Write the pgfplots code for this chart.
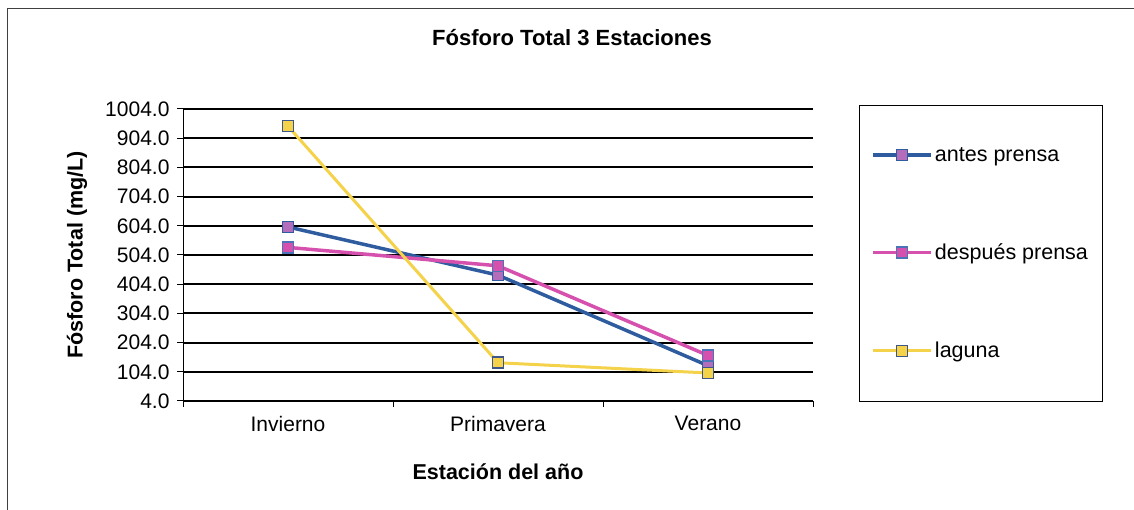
\documentclass[border=0pt]{standalone}
\usepackage{fontspec}
\setmainfont{Liberation Sans}
\usepackage{pgfplots}
\pgfplotsset{compat=1.18}

\definecolor{antesline}{HTML}{2F5C9E}
\definecolor{antesfill}{HTML}{B36DBA}
\definecolor{despline}{HTML}{D651AE}
\definecolor{despedge}{HTML}{4A73B8}
\definecolor{lagline}{HTML}{F4D24A}
\definecolor{lagedge}{HTML}{3E5688}

\begin{document}
\begin{tikzpicture}[x=1pt,y=1pt]
\path[use as bounding box] (0,0) rectangle (1134,510);
% chart area border
\draw[line width=1pt, black!75] (7,0) -- (7,501) -- (1134,501);
% title
\node[font=\fontsize{22}{26}\selectfont\bfseries] at (572,472) {Fósforo Total 3 Estaciones};
% axis titles
\node[font=\fontsize{21.5}{26}\selectfont\bfseries, rotate=90] at (77,255) {Fósforo Total (mg/L)};
\node[font=\fontsize{21.5}{26}\selectfont\bfseries] at (498,38) {Estación del año};

\begin{axis}[
  at={(183pt,109pt)}, anchor=south west,
  scale only axis, width=630pt, height=292pt,
  xmin=-0.5, xmax=2.5, ymin=4, ymax=1004,
  axis x line*=bottom, axis y line*=left,
  axis line style={line width=1pt, black, -},
  tick align=outside,
  major tick length=6pt,
  tick style={line width=1pt, black},
  xtick={-0.5,0.5,1.5,2.5}, xticklabels={},
  extra x ticks={0,1,2},
  extra x tick labels={Invierno,Primavera,Verano},
  extra x tick style={major tick length=0pt, grid=none},
  ytick={4,104,204,304,404,504,604,704,804,904,1004},
  yticklabels={4.0,104.0,204.0,304.0,404.0,504.0,604.0,704.0,804.0,904.0,1004.0},
  ymajorgrids,
  major grid style={line width=2pt, black},
  ticklabel style={font=\fontsize{21}{25}\selectfont},
  xticklabel style={yshift=-12pt},
  yticklabel style={xshift=-4pt},
  clip=false,
  legend style={
    at={(1.073,1.0137)}, anchor=north west,
    draw=black, line width=1pt, fill=white,
    font=\fontsize{21.5}{26}\selectfont,
    inner xsep=12pt, inner ysep=40pt,
    row sep=77pt,
  },
  legend cell align=left,
  legend image code/.code={
    \draw[mark repeat=2, mark phase=2] plot coordinates {(0pt,0pt) (29pt,0pt) (58pt,0pt)};
  },
]
\addplot[antesline, line width=3.5pt, mark=square*, mark size=5.5pt,
  mark options={fill=antesfill, draw=antesline, line width=1.5pt}]
  coordinates {(0,600) (1,435) (2,125)};
\addlegendentry{antes prensa}
\addplot[despline, line width=3.5pt, mark=square*, mark size=5.5pt,
  mark options={fill=despline, draw=despedge, line width=1.5pt}]
  coordinates {(0,530) (1,467) (2,160)};
\addlegendentry{después prensa}
\addplot[lagline, line width=3pt, mark=square*, mark size=5.5pt,
  mark options={fill=lagline, draw=lagedge, line width=1.5pt}]
  coordinates {(0,945) (1,135) (2,100)};
\addlegendentry{laguna}
\end{axis}
\end{tikzpicture}
\end{document}
